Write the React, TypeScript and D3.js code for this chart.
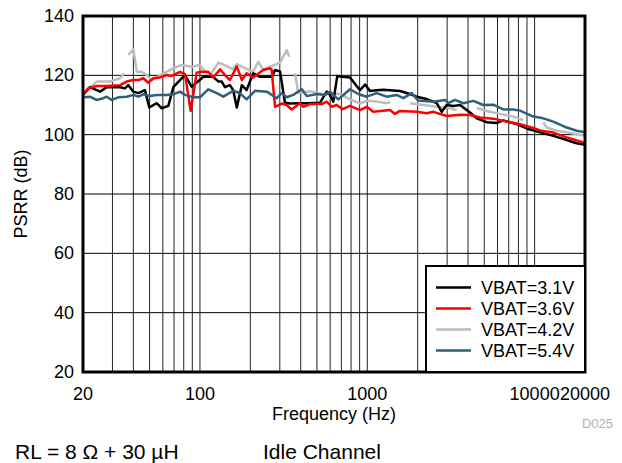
import React from "react";
import * as d3 from "d3";

type P = [number, number | null];

const vbat31: P[] = [
  [20.1, 113.6], [22, 116], [25.3, 114.5], [27.7, 116], [33.3, 116], [35.6, 115.6], [37.3, 116.7],
  [40, 114.5], [42.8, 114], [46.9, 115], [49.8, 109.2], [55.1, 110.6], [59.1, 108.9], [64.7, 109.7],
  [69.3, 116], [77.8, 119], [81.4, 120], [89.2, 116.2], [95.6, 117.6], [105, 119.5], [120, 119.5],
  [129, 117.9], [135, 117.9], [141, 116], [151, 116.7], [158, 115], [166, 109.2], [178, 116.7],
  [190, 115], [208, 120.7], [228, 119.5], [270, 119.5], [281, 121.8], [301, 121.3], [322, 110.8],
  [345, 110.5], [396, 110.6], [435, 110.6], [522, 110.8], [572, 114.5], [599, 113.4], [626, 111.1],
  [662, 119.8], [703, 119.5], [788, 119.3], [905, 115], [970, 116.9], [1038, 114.7], [1138, 115],
  [1247, 115.1], [1568, 114.7], [1800, 113.7], [1974, 112.8], [2265, 112], [2600, 110.6], [2785, 107.7],
  [2983, 110], [3266, 109.7], [3582, 110], [4110, 107.5], [4506, 105.5], [5170, 104.2], [5933, 103.9],
  [6500, 104.8], [7815, 103.6], [8966, 102.1], [10766, 100.8], [12931, 99.6], [15551, 98.2],
  [17838, 97.1], [20000, 96.6],
];

const vbat36: P[] = [
  [20.1, 113.7], [21.5, 115.6], [24.1, 116.4], [27.7, 116.4], [33.3, 116.7], [36.5, 117.9], [40, 118.4],
  [42.8, 118.4], [45.9, 119], [49.1, 117.5], [52.6, 119], [57.7, 119.3], [63.3, 120.1], [67.8, 119.8],
  [76, 121.2], [81.4, 120.4], [88, 108], [95.6, 120.9], [102, 121.2], [112, 121.2], [120, 119.3],
  [132, 122], [141, 120.1], [151, 118.4], [166, 123], [178, 118.4], [190, 120.7], [208, 119.3],
  [239, 121.8], [262, 122.4], [268, 122], [281, 109.4], [308, 110.5], [330, 110], [353, 108.5],
  [396, 110.6], [415, 109.4], [455, 110.3], [534, 110.3], [572, 111.1], [613, 109.4], [656, 110],
  [713, 108.6], [788, 109.7], [905, 108.3], [992, 109.4], [1086, 107.7], [1367, 108.3], [1464, 107],
  [1568, 108], [1974, 107.7], [2265, 107.2], [2481, 107.7], [2983, 106.3], [3582, 106.7], [4110, 106.6],
  [4716, 105.8], [5662, 105.4], [6811, 104.4], [8177, 103.5], [9820, 102.3], [10766, 101.4],
  [12931, 100.7], [15551, 99.1], [19540, 97.4], [20000, 97.3],
];

const vbat42: P[] = [
  [20.1, 113.5], [24.1, 117.9], [29, 117.9], [33.3, 119], [35.2, 120.7], [36.2, null],
  [37.3, 126.9], [40, 128.8], [41.9, 121.2], [44.9, 121.2], [48.1, 120.1], [51.5, 118.4], [55.1, 119.3],
  [69.3, 122.4], [77.8, 123.5], [89.2, 122.9], [100, 123.5], [105, 121.8], [115, 120.1], [129, 124.3],
  [144, 123.2], [158, 122], [166, 123.8], [186, 122.4], [208, 121.2], [223, 124.6], [239, 121.8],
  [262, 122.9], [301, 124.3], [330, 128.5], [342, 126.3], [355, null],
  [370, 120.7], [387, 114], [415, 114.3], [455, 114.6], [546, 113.6], [687, 113.8], [753, 112.5],
  [825, 111.4], [905, 110.6], [992, 111.4], [1138, 111.2], [1306, 110.6], [1367, 111], [1550, null],
  [1800, 110.6], [2162, 110], [2600, 109.4], [3122, 108.9], [3422, 108.3], [3950, null],
  [4506, 108.9], [5410, 107.7], [6211, 107], [7458, 106.1], [8558, 104.9], [10000, null],
  [11268, 104.1], [11808, 102.4], [13550, 101.3], [15551, 100.8], [20000, 99.6],
];

const vbat54: P[] = [
  [20.1, 112.6], [22, 112.8], [24.1, 111.7], [26.4, 112.3], [27.7, 112.8], [29.7, 111.7], [32.5, 112.6],
  [36.5, 112.8], [40, 113.4], [42.8, 112.8], [45.9, 113.6], [50.3, 113], [55.1, 113.4], [63.3, 113.4],
  [69.3, 113.6], [76, 114.5], [81.4, 113.4], [91.2, 112.6], [100, 112.6], [112, 115.3], [126, 114],
  [138, 112.8], [158, 114.8], [173, 114], [190, 111.9], [213, 114.8], [251, 114.5], [288, 112.3],
  [308, 114], [330, 112.6], [361, 113.4], [406, 115.3], [435, 113], [499, 113.7], [559, 113.4],
  [599, 114.5], [626, 113.4], [671, 111.9], [788, 115.3], [884, 113.7], [992, 112.8], [1138, 114],
  [1306, 112.8], [1499, 113.4], [1641, 112.3], [1843, 114], [2018, 111.5], [2481, 111.1], [2915, 111.7],
  [3049, 110.6], [3343, 111.7], [3749, 110.6], [4301, 111.4], [4934, 110], [5662, 110.1], [6500, 108.5],
  [7458, 108.5], [8177, 108.1], [9820, 106.1], [11268, 105.5], [12931, 104.4], [15551, 102.4],
  [17838, 101.3], [20000, 100.8],
];

const seriesNames = ["VBAT=3.1V", "VBAT=3.6V", "VBAT=4.2V", "VBAT=5.4V"];
const seriesColors = ["#000000", "#ff0000", "#bdbdbd", "#2f5f79"];
const seriesData = [vbat31, vbat36, vbat42, vbat54];
const drawOrder = [2, 0, 1, 3];

const yTicks = [20, 40, 60, 80, 100, 120, 140];
const xTickLabels = [20, 100, 1000, 10000, 20000];
const xGrid = [
  30, 40, 50, 60, 70, 80, 90, 100, 200, 300, 400, 500, 600, 700, 800, 900, 1000,
  2000, 3000, 4000, 5000, 6000, 7000, 8000, 9000, 10000,
];

const FONT = "Liberation Sans, Arial, Helvetica, sans-serif";

export default function App() {
  const W = 622, H = 463;
  const left = 83, right = 585, top = 16, bottom = 372;
  const x = d3.scaleLog().domain([20, 20000]).range([left, right]);
  const y = d3.scaleLinear().domain([20, 140]).range([bottom, top]);
  const line = d3
    .line<P>()
    .defined((d) => d[1] !== null)
    .x((d) => x(d[0]))
    .y((d) => y(d[1] as number));

  const legX = 426, legY = 266;
  const rowY = [287.5, 308.5, 329.5, 350.5];

  return (
    <svg width={W} height={H} style={{ position: "absolute", left: 0, top: 0 }} fontFamily={FONT}>
      <rect x={0} y={0} width={W} height={H} fill="#fff" />
      {xGrid.map((v) => (
        <line key={"gx" + v} x1={x(v)} x2={x(v)} y1={top} y2={bottom} stroke="#222" strokeWidth={1} />
      ))}
      {yTicks.slice(1, -1).map((v) => (
        <line key={"gy" + v} x1={left} x2={right} y1={y(v)} y2={y(v)} stroke="#000" strokeWidth={1} />
      ))}
      {drawOrder.map((i) => (
        <path
          key={"s" + i}
          d={line(seriesData[i]) || ""}
          fill="none"
          stroke={seriesColors[i]}
          strokeWidth={2.5}
          strokeLinejoin="round"
        />
      ))}
      <rect x={left} y={top} width={right - left} height={bottom - top} fill="none" stroke="#000" strokeWidth={3} />
      {yTicks.map((v) => (
        <text key={"yt" + v} x={74} y={y(v)} textAnchor="end" dominantBaseline="central" fontSize={18} fill="#000">
          {v}
        </text>
      ))}
      {xTickLabels.map((v) => (
        <text key={"xt" + v} x={x(v)} y={399.5} textAnchor="middle" fontSize={18} fill="#000">
          {v}
        </text>
      ))}
      <text x={(left + right) / 2} y={419.5} textAnchor="middle" fontSize={18} fill="#000">
        Frequency (Hz)
      </text>
      <text transform={`translate(27,${(top + bottom) / 2}) rotate(-90)`} textAnchor="middle" fontSize={18} fill="#000">
        PSRR (dB)
      </text>
      <g>
        <rect x={legX} y={legY} width={right - legX} height={bottom - legY} fill="#fff" stroke="#000" strokeWidth={2} />
        {seriesNames.map((n, i) => (
          <g key={"lg" + i}>
            <line x1={436} x2={471} y1={rowY[i]} y2={rowY[i]} stroke={seriesColors[i]} strokeWidth={2.5} />
            <text x={481} y={rowY[i]} dominantBaseline="central" fontSize={18} fill="#000">
              {n}
            </text>
          </g>
        ))}
      </g>
      <text x={613} y={428} textAnchor="end" fontSize={13} fill="#b0b0b0">
        D025
      </text>
      <text x={15} y={459} fontSize={21} fill="#000">
        RL = 8 Ω + 30 µH
      </text>
      <text x={263} y={459} fontSize={21} fill="#000">
        Idle Channel
      </text>
    </svg>
  );
}
